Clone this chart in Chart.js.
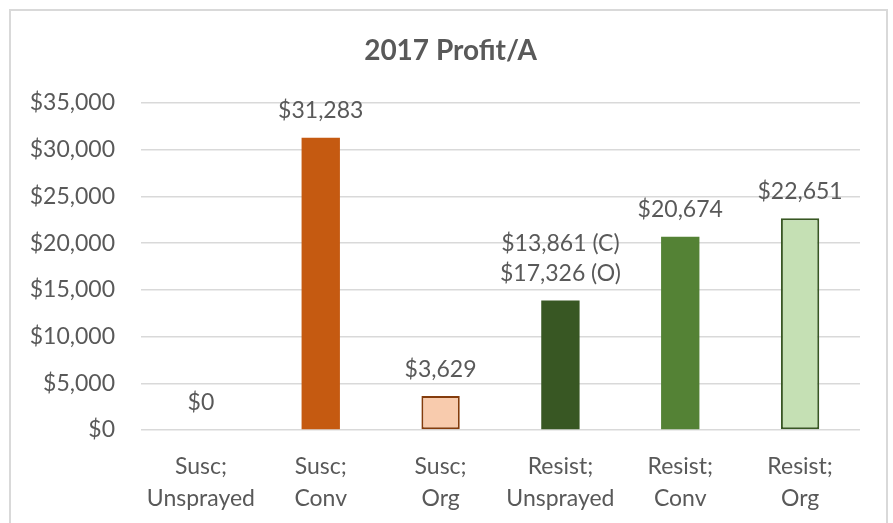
<!DOCTYPE html>
<html lang="en">

<head>
    <meta charset="UTF-8" />
    <title>2017 Profit/A</title>
    <script src="https://cdn.jsdelivr.net/npm/chart.js"></script>
    <style>
        html, body { margin: 0; padding: 0; background: #fff; }
        #wrap { position: relative; width: 893px; height: 523px; }
    </style>
</head>

<body>
    <div id="wrap">
        <canvas id="grafica"></canvas>
    </div>

    <script>
        // datos
        const titulo = "2017 Profit/A";
        const categorias = [
            ["Susc;", "Unsprayed"],
            ["Susc;", "Conv"],
            ["Susc;", "Org"],
            ["Resist;", "Unsprayed"],
            ["Resist;", "Conv"],
            ["Resist;", "Org"]
        ];
        const ganancia = [0, 31283, 3629, 13861, 20674, 22651];
        const etiquetas = [
            ["$0"],
            ["$31,283"],
            ["$3,629"],
            ["$13,861 (C)", "$17,326 (O)"],
            ["$20,674"],
            ["$22,651"]
        ];
        const ticksY = [0, 5000, 10000, 15000, 20000, 25000, 30000, 35000];

        const rellenos = ["#C55A11", "#C55A11", "#F8CBAD", "#385723", "#548235", "#C5E0B4"];
        const bordes = ["#C55A11", "#C55A11", "#843C0C", "#385723", "#548235", "#385723"];
        const grosores = [0, 0, 2, 0, 0, 2];

        const gris = "#595959";
        const fuente = "Lato, 'Open Sans', sans-serif";

        // marco gris y titulo centrado en todo el lienzo (como en Excel)
        const marco = {
            id: "marco",
            beforeDraw(chart) {
                const ctx = chart.ctx;
                ctx.save();
                ctx.strokeStyle = "#d9d9d9";
                ctx.lineWidth = 2;
                ctx.strokeRect(10, 10, 877, 540);
                ctx.fillStyle = gris;
                ctx.font = "bold 28px " + fuente;
                ctx.textAlign = "center";
                ctx.textBaseline = "middle";
                ctx.fillText(titulo, chart.width / 2 + 4, 51);
                ctx.restore();
            }
        };

        // etiquetas de valor encima de cada barra
        const valores = {
            id: "valores",
            afterDatasetsDraw(chart) {
                const ctx = chart.ctx;
                const meta = chart.getDatasetMeta(0);
                ctx.save();
                ctx.fillStyle = gris;
                ctx.font = "23px " + fuente;
                ctx.textAlign = "center";
                ctx.textBaseline = "middle";
                meta.data.forEach((bar, i) => {
                    const lineas = etiquetas[i];
                    lineas.forEach((txt, j) => {
                        const y = bar.y - 27 - (lineas.length - 1 - j) * 30;
                        ctx.fillText(txt, bar.x, y);
                    });
                });
                ctx.restore();
            }
        };

        new Chart(document.getElementById("grafica"), {
            type: "bar",
            data: {
                labels: categorias,
                datasets: [{
                    data: ganancia,
                    backgroundColor: rellenos,
                    borderColor: bordes,
                    borderWidth: grosores,
                    borderSkipped: false,
                    categoryPercentage: 1,
                    barPercentage: 0.32
                }]
            },
            options: {
                responsive: true,
                maintainAspectRatio: false,
                animation: false,
                layout: { padding: { left: 0, right: 33, top: 103, bottom: 0 } },
                plugins: {
                    legend: { display: false },
                    tooltip: { enabled: false },
                    title: { display: false }
                },
                scales: {
                    x: {
                        grid: { display: false, drawTicks: false },
                        border: { display: false },
                        ticks: {
                            color: gris,
                            font: { family: fuente, size: 23, lineHeight: 1.4 },
                            padding: 20,
                            maxRotation: 0,
                            autoSkip: false
                        },
                        afterFit: s => { s.height = 93; }
                    },
                    y: {
                        min: 0,
                        max: 35000,
                        afterBuildTicks: s => { s.ticks = ticksY.map(v => ({ value: v })); },
                        grid: { color: "#d9d9d9", lineWidth: 1.5, drawTicks: false },
                        border: { display: false },
                        ticks: {
                            color: gris,
                            font: { family: fuente, size: 23 },
                            padding: 26,
                            callback: v => "$" + v.toLocaleString("en-US")
                        },
                        afterFit: s => { s.width = 141; }
                    }
                }
            },
            plugins: [marco, valores]
        });
    </script>
</body>

</html>
